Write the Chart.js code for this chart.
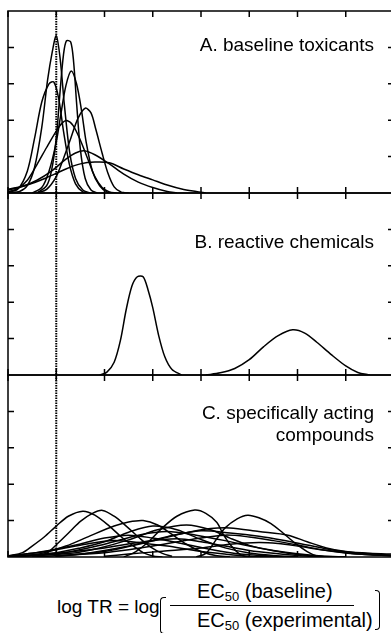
<!DOCTYPE html>
<html>
<head>
<meta charset="utf-8">
<script src="https://cdn.jsdelivr.net/npm/chart.js@4.4.1/dist/chart.umd.min.js"></script>
<style>
 html, body { margin: 0; padding: 0; background: #fff; overflow: hidden; }
 #wrap { position: relative; width: 391px; height: 633px; overflow: hidden; font-family: "Liberation Sans", Arial, sans-serif; color: #000; }
 .panel { position: absolute; left: 0; width: 400px; height: 200px; }
 .lbl { position: absolute; right: 17px; font-size: 19px; line-height: 22px; text-align: right; white-space: nowrap; }
 .f { position: absolute; white-space: nowrap; }
 sub { font-size: 0.65em; vertical-align: -0.25em; line-height: 0; }
</style>
</head>
<body>
<div id="wrap">
 <div class="panel" style="top:2px"><canvas id="cA" width="400" height="200"></canvas></div>
 <div class="panel" style="top:184px"><canvas id="cB" width="400" height="200"></canvas></div>
 <div class="panel" style="top:366px"><canvas id="cC" width="400" height="200"></canvas></div>

 <div class="lbl" style="top:34px">A. baseline toxicants</div>
 <div class="lbl" style="top:231px">B. reactive chemicals</div>
 <div class="lbl" style="top:402px">C. specifically acting<br>compounds</div>

 <div class="f" style="left:57px;top:596px;font-size:19px;line-height:22px">log TR = log</div>
 <div class="f" style="left:160px;top:597px;width:5px;height:35px;border:1.5px solid #000;border-right:none;border-radius:4px 0 0 4px"></div>
 <div class="f" style="left:197px;top:580px;font-size:20px;line-height:22px">EC<sub>50</sub> (baseline)</div>
 <div class="f" style="left:170px;top:605px;width:184px;height:0;border-top:1.5px solid #000"></div>
 <div class="f" style="left:197px;top:609px;font-size:20px;line-height:22px">EC<sub>50</sub> (experimental)</div>
 <div class="f" style="left:375px;top:590px;width:4px;height:38px;border:1.5px solid #000;border-left:none;border-radius:0 4px 4px 0"></div>
</div>

<script>
// axis ticks (log TR on x, frequency on y)
const xTicks = [-1, 0, 1, 2, 3, 4, 5, 6, 7];
const yTicks = [1, 2, 3, 4];

// A. baseline toxicants
const baselineCurves = [
 [[-1,0],[-0.75,0.05],[-0.6,0.2],[-0.45,0.7],[-0.3,1.8],[-0.18,3.1],[-0.08,3.9],[0,4.32],[0.08,3.7],[0.17,2.4],[0.28,1.1],[0.4,0.4],[0.55,0.08],[0.7,0]],
 [[-0.4,0],[-0.2,0.2],[-0.1,0.6],[0,1.5],[0.08,2.8],[0.15,3.8],[0.21,4.18],[0.3,4.15],[0.36,3.6],[0.42,2.5],[0.5,1.2],[0.6,0.4],[0.72,0.08],[0.85,0]],
 [[-1,0.02],[-0.8,0.1],[-0.6,0.6],[-0.45,1.5],[-0.3,2.5],[-0.15,3.0],[-0.05,3.05],[0.05,2.6],[0.15,1.7],[0.27,0.8],[0.4,0.25],[0.55,0.03],[0.7,0]],
 [[-0.5,0],[-0.3,0.15],[-0.15,0.6],[0,1.4],[0.1,2.2],[0.2,2.95],[0.31,3.35],[0.42,3.0],[0.52,2.3],[0.62,1.4],[0.75,0.6],[0.9,0.2],[1.05,0.03],[1.2,0]],
 [[-0.4,0],[-0.2,0.1],[0,0.45],[0.15,0.95],[0.3,1.5],[0.45,2.05],[0.6,2.33],[0.72,2.2],[0.82,1.75],[0.95,1.1],[1.07,0.55],[1.2,0.17],[1.35,0.02],[1.5,0]],
 [[-1,0.03],[-0.8,0.12],[-0.6,0.35],[-0.4,0.78],[-0.2,1.25],[0,1.7],[0.12,1.92],[0.22,1.99],[0.35,1.85],[0.5,1.45],[0.65,0.95],[0.8,0.45],[0.95,0.15],[1.1,0.03],[1.25,0]],
 [[-1,0.08],[-0.7,0.18],[-0.4,0.35],[-0.1,0.6],[0.2,0.93],[0.4,1.1],[0.58,1.16],[0.8,1.05],[1.1,0.8],[1.4,0.52],[1.7,0.3],[2.0,0.15],[2.3,0.04],[2.5,0]],
 [[-1,0.1],[-0.6,0.22],[-0.2,0.42],[0.2,0.66],[0.5,0.8],[0.8,0.85],[1.1,0.83],[1.4,0.66],[1.7,0.5],[2.0,0.36],[2.3,0.22],[2.6,0.11],[2.9,0.04],[3.1,0]]
];

// B. reactive chemicals
const reactiveCurves = [
 [[0.9,0],[1.05,0.08],[1.2,0.35],[1.33,0.95],[1.45,1.8],[1.57,2.45],[1.68,2.7],[1.8,2.7],[1.9,2.35],[2.0,1.85],[2.12,1.1],[2.25,0.5],[2.4,0.15],[2.6,0]],
 [[3.1,0],[3.4,0.06],[3.7,0.18],[4.0,0.42],[4.3,0.78],[4.6,1.08],[4.9,1.24],[5.15,1.15],[5.4,0.9],[5.7,0.56],[6.0,0.25],[6.25,0.07],[6.5,0]]
];

// C. specifically acting compounds
const specificCurves = [
 [[-1,0.03],[-0.7,0.12],[-0.5,0.3],[-0.25,0.55],[0,0.85],[0.25,1.12],[0.55,1.26],[0.8,1.15],[1.1,0.85],[1.35,0.55],[1.6,0.3],[1.8,0.12],[2.0,0.03],[2.2,0]],
 [[-0.4,0],[-0.2,0.1],[0.05,0.4],[0.3,0.72],[0.5,0.98],[0.75,1.2],[0.96,1.28],[1.2,1.12],[1.45,0.85],[1.7,0.55],[1.95,0.28],[2.2,0.1],[2.4,0.02]],
 [[-0.8,0.01],[-0.3,0.1],[0.2,0.3],[0.7,0.58],[1.2,0.85],[1.5,0.96],[1.8,1.0],[2.1,0.88],[2.4,0.62],[2.7,0.35],[3.0,0.15],[3.3,0.04],[3.6,0]],
 [[1.4,0],[1.65,0.15],[1.93,0.44],[2.2,0.8],[2.5,1.12],[2.87,1.29],[3.1,1.2],[3.33,0.95],[3.45,0.65],[3.6,0.35],[3.8,0.08],[3.95,0]],
 [[2.9,0],[3.1,0.1],[3.3,0.45],[3.5,0.8],[3.75,1.05],[3.97,1.15],[4.2,1.08],[4.45,0.92],[4.7,0.66],[4.95,0.38],[5.2,0.15],[5.4,0.03],[5.6,0]],
 [[-1,0.02],[0,0.12],[0.5,0.25],[1.0,0.42],[1.5,0.68],[2.0,0.85],[2.5,0.75],[3.0,0.48],[3.5,0.25],[4.0,0.11],[4.5,0.04],[5,0]],
 [[-0.8,0.01],[0.3,0.1],[0.9,0.25],[1.5,0.47],[2.1,0.75],[2.7,0.88],[3.2,0.75],[3.6,0.52],[4.0,0.32],[4.5,0.17],[5.0,0.07],[5.5,0.02],[6,0]],
 [[0,0.02],[1,0.15],[1.8,0.38],[2.6,0.64],[3.2,0.78],[3.6,0.8],[4.2,0.7],[4.8,0.6],[5.2,0.42],[5.6,0.25],[6.0,0.15],[6.5,0.1],[7,0.08]],
 [[-0.5,0],[0.5,0.08],[1.5,0.3],[2.3,0.56],[3.0,0.72],[3.6,0.66],[4.2,0.57],[4.7,0.46],[5.2,0.33],[5.7,0.2],[6.2,0.12],[6.6,0.08],[7,0.05]],
 [[-1,0.01],[0,0.08],[1,0.35],[1.7,0.6],[2.3,0.7],[2.9,0.6],[3.5,0.45],[4.0,0.3],[4.5,0.18],[5.0,0.09],[5.5,0.03],[6,0]],
 [[-1,0.03],[-0.5,0.1],[0,0.22],[0.5,0.36],[1.0,0.52],[1.5,0.6],[2.0,0.52],[2.5,0.4],[3.0,0.26],[3.5,0.14],[4.0,0.06],[4.5,0.02],[5,0]],
 [[0,0.03],[1,0.12],[1.5,0.2],[2,0.3],[2.8,0.48],[3.5,0.6],[4.0,0.55],[4.5,0.45],[5.0,0.33],[5.5,0.2],[6.0,0.11],[6.5,0.06],[7,0.03]],
 [[-0.5,0.04],[0,0.1],[0.5,0.17],[1,0.25],[1.7,0.4],[2.5,0.5],[3.0,0.42],[3.5,0.3],[4.0,0.18],[4.5,0.1],[5.0,0.04],[5.5,0]],
 [[1,0.02],[1.5,0.08],[2.2,0.16],[3,0.25],[3.6,0.35],[4.2,0.4],[4.6,0.37],[5,0.3],[5.5,0.2],[6,0.12],[6.5,0.06],[7,0.03]],
 [[-1,0.03],[-0.5,0.1],[0,0.2],[0.6,0.35],[1.2,0.45],[1.8,0.38],[2.3,0.3],[2.9,0.17],[3.5,0.08],[4,0.02],[4.5,0]]
];

// box, inward tick marks and the dotted line at log TR = 0
const framePlugin = {
 id: 'frame',
 afterDatasetsDraw(chart) {
  const ctx = chart.ctx, a = chart.chartArea;
  const x = chart.scales.x, y = chart.scales.y;
  ctx.save();
  ctx.strokeStyle = '#000';
  ctx.lineWidth = 1.5;
  ctx.strokeRect(a.left, a.top, a.right - a.left, a.bottom - a.top);
  ctx.beginPath();
  xTicks.forEach(v => {
   const px = x.getPixelForValue(v);
   ctx.moveTo(px, a.top); ctx.lineTo(px, a.top + 6);
   ctx.moveTo(px, a.bottom); ctx.lineTo(px, a.bottom - 6);
  });
  yTicks.forEach(v => {
   const py = y.getPixelForValue(v);
   ctx.moveTo(a.left, py); ctx.lineTo(a.left + 6, py);
   ctx.moveTo(a.right, py); ctx.lineTo(a.right - 6, py);
  });
  ctx.stroke();
  const z = x.getPixelForValue(0);
  ctx.lineWidth = 2;
  ctx.setLineDash([1.5, 1]);
  ctx.beginPath();
  ctx.moveTo(z, a.top); ctx.lineTo(z, a.bottom);
  ctx.stroke();
  ctx.restore();
 }
};

function makePanel(id, curves) {
 new Chart(document.getElementById(id), {
  type: 'scatter',
  data: {
   datasets: curves.map(c => ({
    data: c.map(p => ({ x: p[0], y: p[1] })),
    showLine: true,
    borderColor: '#000',
    borderWidth: 1.5,
    pointRadius: 0,
    tension: 0.3,
    fill: false
   }))
  },
  options: {
   responsive: false,
   animation: false,
   devicePixelRatio: 1,
   layout: { padding: { left: 8, right: 6, top: 9, bottom: 9 } },
   plugins: { legend: { display: false }, tooltip: { enabled: false } },
   scales: {
    x: { type: 'linear', min: -1, max: 7, display: false },
    y: { type: 'linear', min: 0, max: 5, display: false }
   }
  },
  plugins: [framePlugin]
 });
}

makePanel('cA', baselineCurves);
makePanel('cB', reactiveCurves);
makePanel('cC', specificCurves);
</script>
</body>
</html>
